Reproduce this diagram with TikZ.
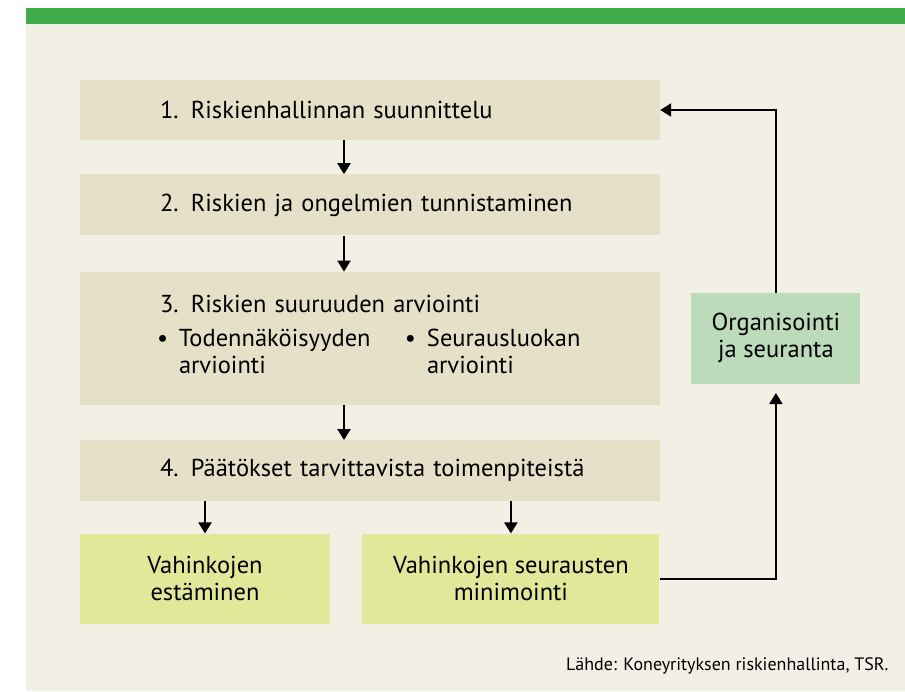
\documentclass[tikz,border=0pt]{standalone}
\usepackage{fontspec}
\setmainfont{PT Sans}
\usetikzlibrary{arrows.meta, positioning}
\definecolor{barGreen}{HTML}{40AD4A}
\definecolor{bgCream}{HTML}{F2EFE4}
\definecolor{stageBeige}{HTML}{E6E0C8}
\definecolor{actionLime}{HTML}{E1E899}
\definecolor{monitorGreen}{HTML}{BBDBBB}
\begin{document}
\begin{tikzpicture}[
    x=1pt, y=1pt,
    >={Triangle[width=13pt,length=11pt]},
    font=\fontsize{24.5}{27}\selectfont,
    base/.style={align=center, inner sep=0pt},
    stage/.style={base, fill=stageBeige, minimum width=580pt, text width=500pt, inner xsep=40pt, align=left,
      execute at begin node={\leftskip=40pt}},
    action/.style={base, fill=actionLime, minimum height=90pt},
    monitor/.style={base, fill=monitorGreen, minimum width=169pt, minimum height=91pt},
    arrow/.style={->, line width=2.2pt, black}
  ]
    \useasboundingbox (0,0) rectangle (905,-691);
    \fill[bgCream] (26,-24) rectangle (905,-691);
    \fill[barGreen] (26,-8) rectangle (905,-24);
    \node[stage, minimum height=60pt] (plan) at (370,-110) {1. Riskienhallinnan suunnittelu};
    \node[stage, minimum height=61pt, below=34pt of plan] (ident) {2. Riskien ja ongelmien tunnistaminen};
    \node[stage, minimum height=133pt, below=36pt of ident] (assess)
    {3. Riskien suuruuden arviointi\\[14pt]
     \begin{tabular}{@{}p{19pt}@{}p{229pt}@{}p{19pt}@{}l@{}}
       \hspace*{-3pt}\textbullet & Todennäköisyyden & \hspace*{-3pt}\textbullet & Seurausluokan\\
                   & arviointi        &             & arviointi
     \end{tabular}};
    \node[stage, minimum height=61pt, below=35pt of assess] (decide) {4. Päätökset tarvittavista toimenpiteistä};
    \node[action, minimum width=250pt, below=32pt of decide.south west, anchor=north west] (prevent)
    {Vahinkojen\\estäminen};
    \node[action, minimum width=297pt, right=32pt of prevent] (minimize)
    {Vahinkojen seurausten\\minimointi};
    \node[monitor, right=31pt of assess] (org) {Organisointi\\ja seuranta};
    \node[font=\fontsize{18}{21}\selectfont, anchor=east] (source) at (892,-666)
    {Lähde: Koneyrityksen riskienhallinta, TSR.};
    \draw[arrow] ([xshift=-26pt]plan.south) -- ([xshift=-26pt]ident.north);
    \draw[arrow] ([xshift=-26pt]ident.south) -- ([xshift=-26pt]assess.north);
    \draw[arrow] ([xshift=-26pt]assess.south) -- ([xshift=-26pt]decide.north);
    \draw[arrow] (prevent.north |- decide.south) -- (prevent.north);
    \draw[arrow] (minimize.north |- decide.south) -- (minimize.north);
    \draw[arrow, shorten >=9pt] (minimize.east) -| (org.south);
    \draw[arrow] (org.north) |- (plan.east);
  \end{tikzpicture}
\end{document}
